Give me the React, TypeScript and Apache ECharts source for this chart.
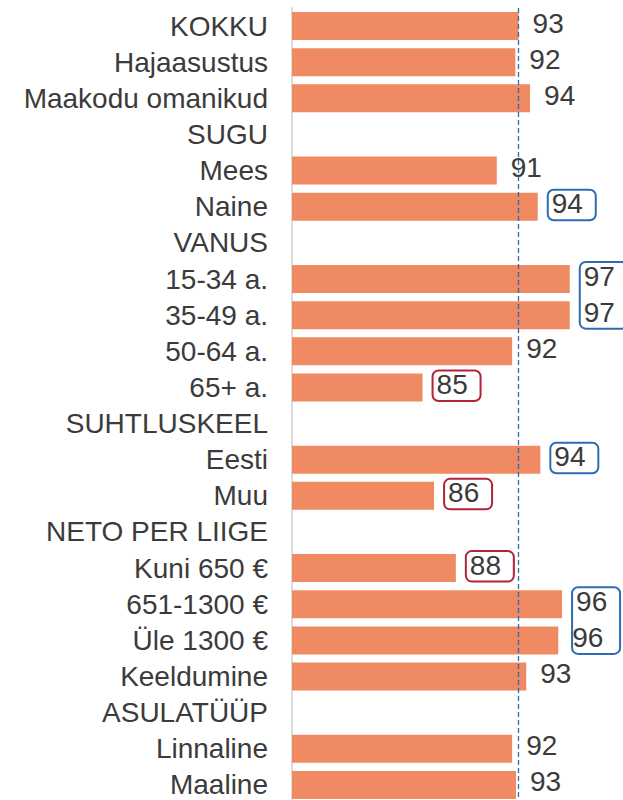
import React, { useEffect, useRef } from "react";
import * as echarts from "echarts";

const categories = [
  "KOKKU",
  "Hajaasustus",
  "Maakodu omanikud",
  "SUGU",
  "Mees",
  "Naine",
  "VANUS",
  "15-34 a.",
  "35-49 a.",
  "50-64 a.",
  "65+ a.",
  "SUHTLUSKEEL",
  "Eesti",
  "Muu",
  "NETO PER LIIGE",
  "Kuni 650 €",
  "651-1300 €",
  "Üle 1300 €",
  "Keeldumine",
  "ASULATÜÜP",
  "Linnaline",
  "Maaline",
];

// "-" marks group header rows without a bar
const values: (number | string)[] = [
  92.7, 92.45, 93.6, "-", 91.0, 94.2, "-", 96.7, 96.7, 92.2, 85.2, "-", 94.4, 86.1, "-", 87.8, 96.1, 95.8, 93.3, "-", 92.2, 92.5,
];

const referenceValue = 92.7; // KOKKU

// highlighted labels: rows (first/last), tone 0 = higher (blue), 1 = lower (red)
const highlightFirst = ["Naine", "15-34 a.", "65+ a.", "Eesti", "Muu", "Kuni 650 €", "651-1300 €"];
const highlightLast = ["Naine", "35-49 a.", "65+ a.", "Eesti", "Muu", "Kuni 650 €", "Üle 1300 €"];
const highlightTone = [0, 0, 1, 0, 1, 1, 0];
const toneColors = ["#2b6cb3", "#b0233a"];

const FONT = "'Liberation Sans', Arial, Helvetica, sans-serif";
const TEXT = "#3b3b3b";

export default function App() {
  const ref = useRef<HTMLDivElement>(null);

  useEffect(() => {
    document.body.style.margin = "0";
    if (!ref.current) return;
    const chart = echarts.init(ref.current, undefined, { renderer: "svg" });

    const boxData = highlightFirst.map((first, i) => {
      const a = categories.indexOf(first);
      const b = categories.indexOf(highlightLast[i]);
      let maxV = 0;
      for (let k = a; k <= b; k++) {
        const v = values[k];
        if (typeof v === "number" && v > maxV) maxV = v;
      }
      return [maxV, a, b, highlightTone[i]];
    });

    chart.setOption({
      animation: false,
      grid: {
        left: 292,
        right: 11,
        top: 8,
        height: 795,
        containLabel: false,
        outerBoundsMode: "none",
      },
      xAxis: {
        type: "value",
        min: 75,
        max: 100,
        show: false,
      },
      yAxis: {
        type: "category",
        data: categories,
        inverse: true,
        axisLine: { show: true, lineStyle: { color: "#dcdcdc", width: 2 } },
        axisTick: { show: false },
        splitLine: { show: false },
        axisLabel: {
          interval: 0,
          hideOverlap: false,
          color: TEXT,
          fontSize: 28,
          lineHeight: 16,
          fontFamily: FONT,
          margin: 24,
          padding: [0, 0, 6, 0],
        },
      },
      series: [
        {
          type: "bar",
          data: values,
          barWidth: 28,
          itemStyle: { color: "#ef8a62" },
          label: {
            show: true,
            position: "right",
            distance: 14,
            color: TEXT,
            fontSize: 28,
            lineHeight: 16,
            fontFamily: FONT,
            offset: [0, -3],
            formatter: (p: any) => String(Math.round(p.value)),
          },
          markLine: {
            silent: true,
            symbol: "none",
            label: { show: false },
            lineStyle: { color: "#2b6cb3", type: [5, 3], width: 1.3 },
            data: [{ xAxis: referenceValue }],
          },
          z: 2,
        },
        {
          type: "custom",
          clip: false,
          silent: true,
          encode: { x: 0, y: 1 },
          data: boxData,
          renderItem: (_params: any, api: any) => {
            const start = api.coord([api.value(0), api.value(1)]);
            const end = api.coord([api.value(0), api.value(2)]);
            return {
              type: "rect",
              shape: {
                x: start[0] + 10,
                y: start[1] - 17,
                width: 48,
                height: end[1] - start[1] + 30.5,
                r: 6,
              },
              style: {
                fill: "none",
                stroke: toneColors[api.value(3)],
                lineWidth: 2,
              },
            };
          },
          z: 3,
        },
      ],
    });

    return () => chart.dispose();
  }, []);

  return <div ref={ref} style={{ width: 623, height: 800 }} />;
}
